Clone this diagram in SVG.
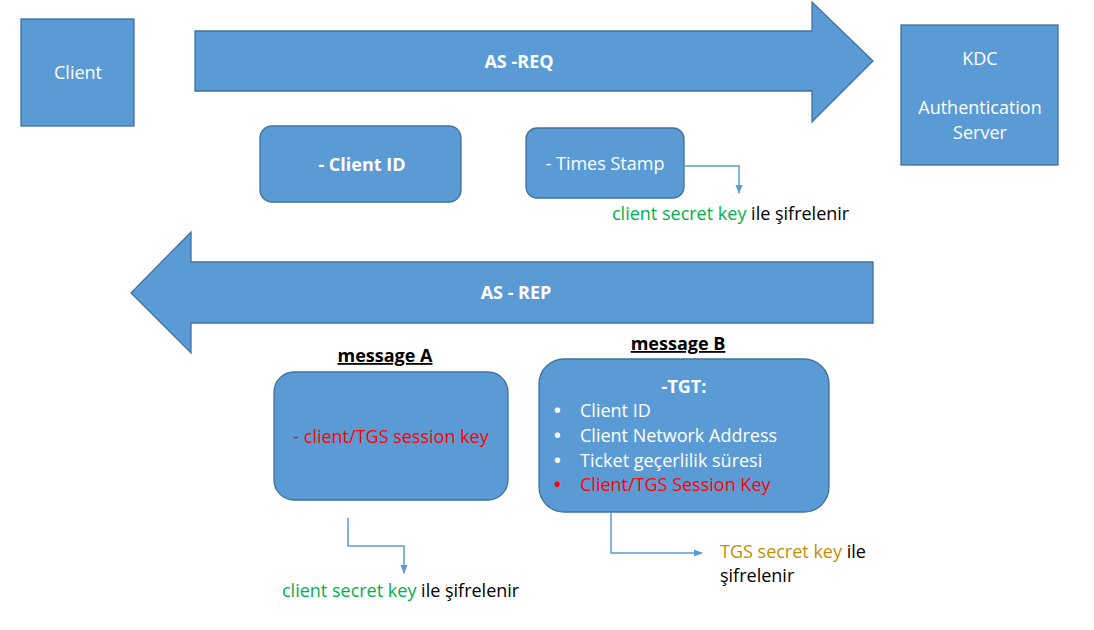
<svg xmlns="http://www.w3.org/2000/svg" width="1094" height="630" viewBox="0 0 1094 630">
<defs>
<style>
.sh{fill:#5B9BD5;stroke:#41719C;stroke-width:1.3}
.t{font-family:"Open Sans","Liberation Sans",sans-serif;font-size:18px;fill:#fff}
.b{font-weight:bold}
.k{font-family:"Open Sans","Liberation Sans",sans-serif;font-size:18px;fill:#000}
.g{fill:#00B050}.r{fill:#FF0000}.y{fill:#BF9000}
.c{fill:none;stroke:#5B9BD5;stroke-width:1.5}
</style>
<marker id="ah" viewBox="0 0 10 10" refX="9" refY="5" markerWidth="6" markerHeight="6" orient="auto"><path d="M0,1 L10,5 L0,9 z" fill="#5B9BD5"/></marker>
</defs>
<rect width="1094" height="630" fill="#fff"/>
<g id="client"><rect class="sh" x="21" y="19" width="113" height="107"/><text class="t" x="78" y="79" text-anchor="middle">Client</text></g>
<g id="as-req"><path class="sh" d="M195,31 H812 V2 L873,61 L812,122 V91 H195 Z"/><text class="t b" x="519" y="68" text-anchor="middle">AS -REQ</text></g>
<g id="kdc"><rect class="sh" x="901" y="25" width="157" height="140"/><text class="t" x="980" y="65" text-anchor="middle">KDC</text><text class="t" x="980" y="114" text-anchor="middle">Authentication</text><text class="t" x="980" y="139" text-anchor="middle">Server</text></g>
<g id="client-id"><rect class="sh" x="260" y="126" width="201" height="76" rx="12"/><text class="t b" x="362" y="171" text-anchor="middle">- Client ID</text></g>
<g id="timestamp"><rect class="sh" x="526" y="128" width="158" height="70" rx="11"/><text class="t" x="605" y="170" text-anchor="middle">- Times Stamp</text></g>
<g id="as-rep"><path class="sh" d="M873,262 H191 V232 L131,293 L191,353 V323 H873 Z"/><text class="t b" x="516" y="299" text-anchor="middle">AS - REP</text></g>
<g id="message-a"><text class="k b" x="385" y="362" text-anchor="middle" text-decoration="underline">message A</text><rect class="sh" x="274" y="372" width="234" height="128" rx="20"/><text class="t r" x="391" y="443" text-anchor="middle">- client/TGS session key</text></g>
<g id="message-b"><text class="k b" x="678" y="350" text-anchor="middle" text-decoration="underline">message B</text><rect class="sh" x="539" y="359" width="290" height="153" rx="25"/>
<text class="t b" x="684" y="393" text-anchor="middle">-TGT:</text>
<text class="t b" x="554" y="417">•</text><text class="t" x="580" y="417">Client ID</text>
<text class="t b" x="554" y="442">•</text><text class="t" x="580" y="442">Client Network Address</text>
<text class="t b" x="554" y="467">•</text><text class="t" x="580" y="467">Ticket geçerlilik süresi</text>
<text class="t b r" x="554" y="491">•</text><text class="t r" x="580" y="491">Client/TGS Session Key</text></g>
<g id="connectors">
<path class="c" d="M684,166 H739 V193" marker-end="url(#ah)"/>
<path class="c" d="M348,518 V546 H404 V573" marker-end="url(#ah)"/>
<path class="c" d="M611,512 V553 H702" marker-end="url(#ah)"/>
</g>
<g id="labels">
<text class="k" x="612" y="220"><tspan class="g">client secret key</tspan> ile şifrelenir</text>
<text class="k" x="282" y="597"><tspan class="g">client secret key</tspan> ile şifrelenir</text>
<text class="k" x="720" y="558"><tspan class="y">TGS secret key</tspan> ile</text>
<text class="k" x="720" y="582">şifrelenir</text>
</g>
</svg>
